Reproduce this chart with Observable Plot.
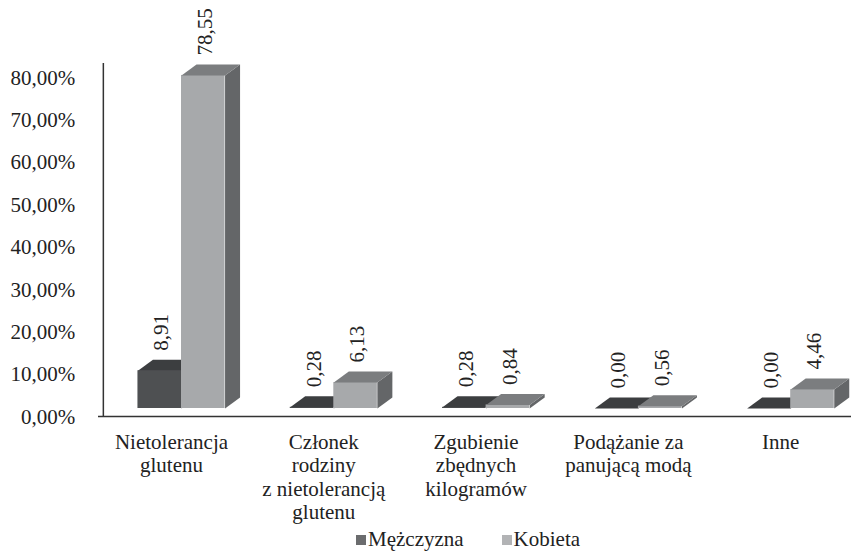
<!DOCTYPE html>
<html>
<head>
<meta charset="utf-8">
<script src="https://cdn.jsdelivr.net/npm/d3@7"></script>
<script src="https://cdn.jsdelivr.net/npm/@observablehq/plot@0.6"></script>
<style>
  html, body { margin: 0; padding: 0; background: #fff; }
  #chart { width: 851px; }
  #chart svg, #chart svg text { font-family: "Liberation Serif", "Times New Roman", serif !important; }
  #legend {
    width: 851px; height: 23px; line-height: 23px; text-align: left; box-sizing: border-box;
    padding-left: 356px; white-space: nowrap;
    font-family: "Liberation Serif", "Times New Roman", serif; font-size: 21px; color: #222;
  }
  #legend .sw { display: inline-block; width: 10px; height: 10px; margin-right: 2px; vertical-align: 1px; }
  #legend .item { margin-right: 38px; }
</style>
</head>
<body>
<div id="chart"></div>
<div id="legend"></div>
<script>
// ---- data ----
const categories = [
  "Nietolerancja\nglutenu",
  "Członek\nrodziny\nz nietolerancją\nglutenu",
  "Zgubienie\nzbędnych\nkilogramów",
  "Podążanie za\npanującą modą",
  "Inne"
];
const seriesNames = ["Mężczyzna", "Kobieta"];
const men = [8.91, 0.28, 0.28, 0.00, 0.00];
const women = [78.55, 6.13, 0.84, 0.56, 4.46];
const yTicks = [0, 10, 20, 30, 40, 50, 60, 70, 80];

// ---- style / geometry ----
const BAR = 0.286;   // bar width in category units
const DX = 0.0985;   // 3D depth (x, category units)
const DY = 2.594;    // 3D depth (y, percent units)
const AXIS_TOP = 83.25;
const colors = {
  "Mężczyzna": {front: "#4e5052", top: "#3c3e40", side: "#333537", legend: "#6b6c6e"},
  "Kobieta":   {front: "#a7a9ab", top: "#7b7d7f", side: "#646668", legend: "#b2b3b5"}
};
const font = "'Liberation Serif', 'Times New Roman', serif";

const bars = [];
categories.forEach((c, i) => {
  const center = i + 0.5;
  bars.push({cat: i, s: seriesNames[0], v: men[i], x0: center - BAR, x1: center});
  bars.push({cat: i, s: seriesNames[1], v: women[i], x0: center, x1: center + BAR});
});
const topPoly = b => [
  {x: b.x0, y: b.v}, {x: b.x1, y: b.v}, {x: b.x1 + DX, y: b.v + DY}, {x: b.x0 + DX, y: b.v + DY}
].map(p => ({...p, id: b.s + b.cat}));
const sidePoly = b => [
  {x: b.x1, y: 0}, {x: b.x1, y: b.v}, {x: b.x1 + DX, y: b.v + DY}, {x: b.x1 + DX, y: DY}
].map(p => ({...p, id: b.s + b.cat}));

const seriesMarks = s => {
  const bs = bars.filter(b => b.s === s);
  const col = colors[s];
  return [
    Plot.line(bs.flatMap(sidePoly), {x: "x", y: "y", z: "id", fill: col.side, stroke: "none"}),
    Plot.rect(bs, {x1: "x0", x2: "x1", y1: 0, y2: "v", fill: col.front}),
    Plot.line(bs.flatMap(topPoly), {x: "x", y: "y", z: "id", fill: col.top, stroke: "none"})
  ];
};

const fmt = v => v.toFixed(2).replace(".", ",");

const chart = Plot.plot({
  width: 851,
  height: 528,
  marginLeft: 98,
  marginRight: 0,
  marginTop: 0,
  marginBottom: 0,
  style: {fontFamily: font, fontSize: "21px", color: "#222", background: "#fff"},
  x: {domain: [0, 5], range: [104.85, 866.35], axis: null},
  y: {domain: [0, 80], range: [408, 68.8], axis: null},
  marks: [
    ...seriesMarks("Mężczyzna"),
    ...seriesMarks("Kobieta"),
    Plot.ruleX([0], {y1: 0, y2: AXIS_TOP, dx: -2, dy: 8, stroke: "#333", strokeWidth: 1.5}),
    Plot.ruleY([0], {dy: 8, stroke: "#333", strokeWidth: 1.5}),
    Plot.text(yTicks, {x: 0, y: d => d, text: d => fmt(d) + "%", textAnchor: "end", dx: -30, dy: 8.5, fill: "#222"}),
    Plot.text(categories, {x: (d, i) => i + 0.5, y: 0, text: d => d, lineAnchor: "top", lineHeight: 1.11, dy: 24, dx: -10, fill: "#222"}),
    Plot.text(bars, {x: d => (d.x0 + d.x1) / 2, y: "v", text: d => fmt(d.v), rotate: -90, textAnchor: "start", dy: -20, dx: 2, fill: "#222"})
  ]
});
document.getElementById("chart").appendChild(chart);

const legend = document.getElementById("legend");
legend.innerHTML = seriesNames.map(s =>
  `<span class="item"><span class="sw" style="background:${colors[s].legend}"></span>${s}</span>`
).join("");
</script>
</body>
</html>
